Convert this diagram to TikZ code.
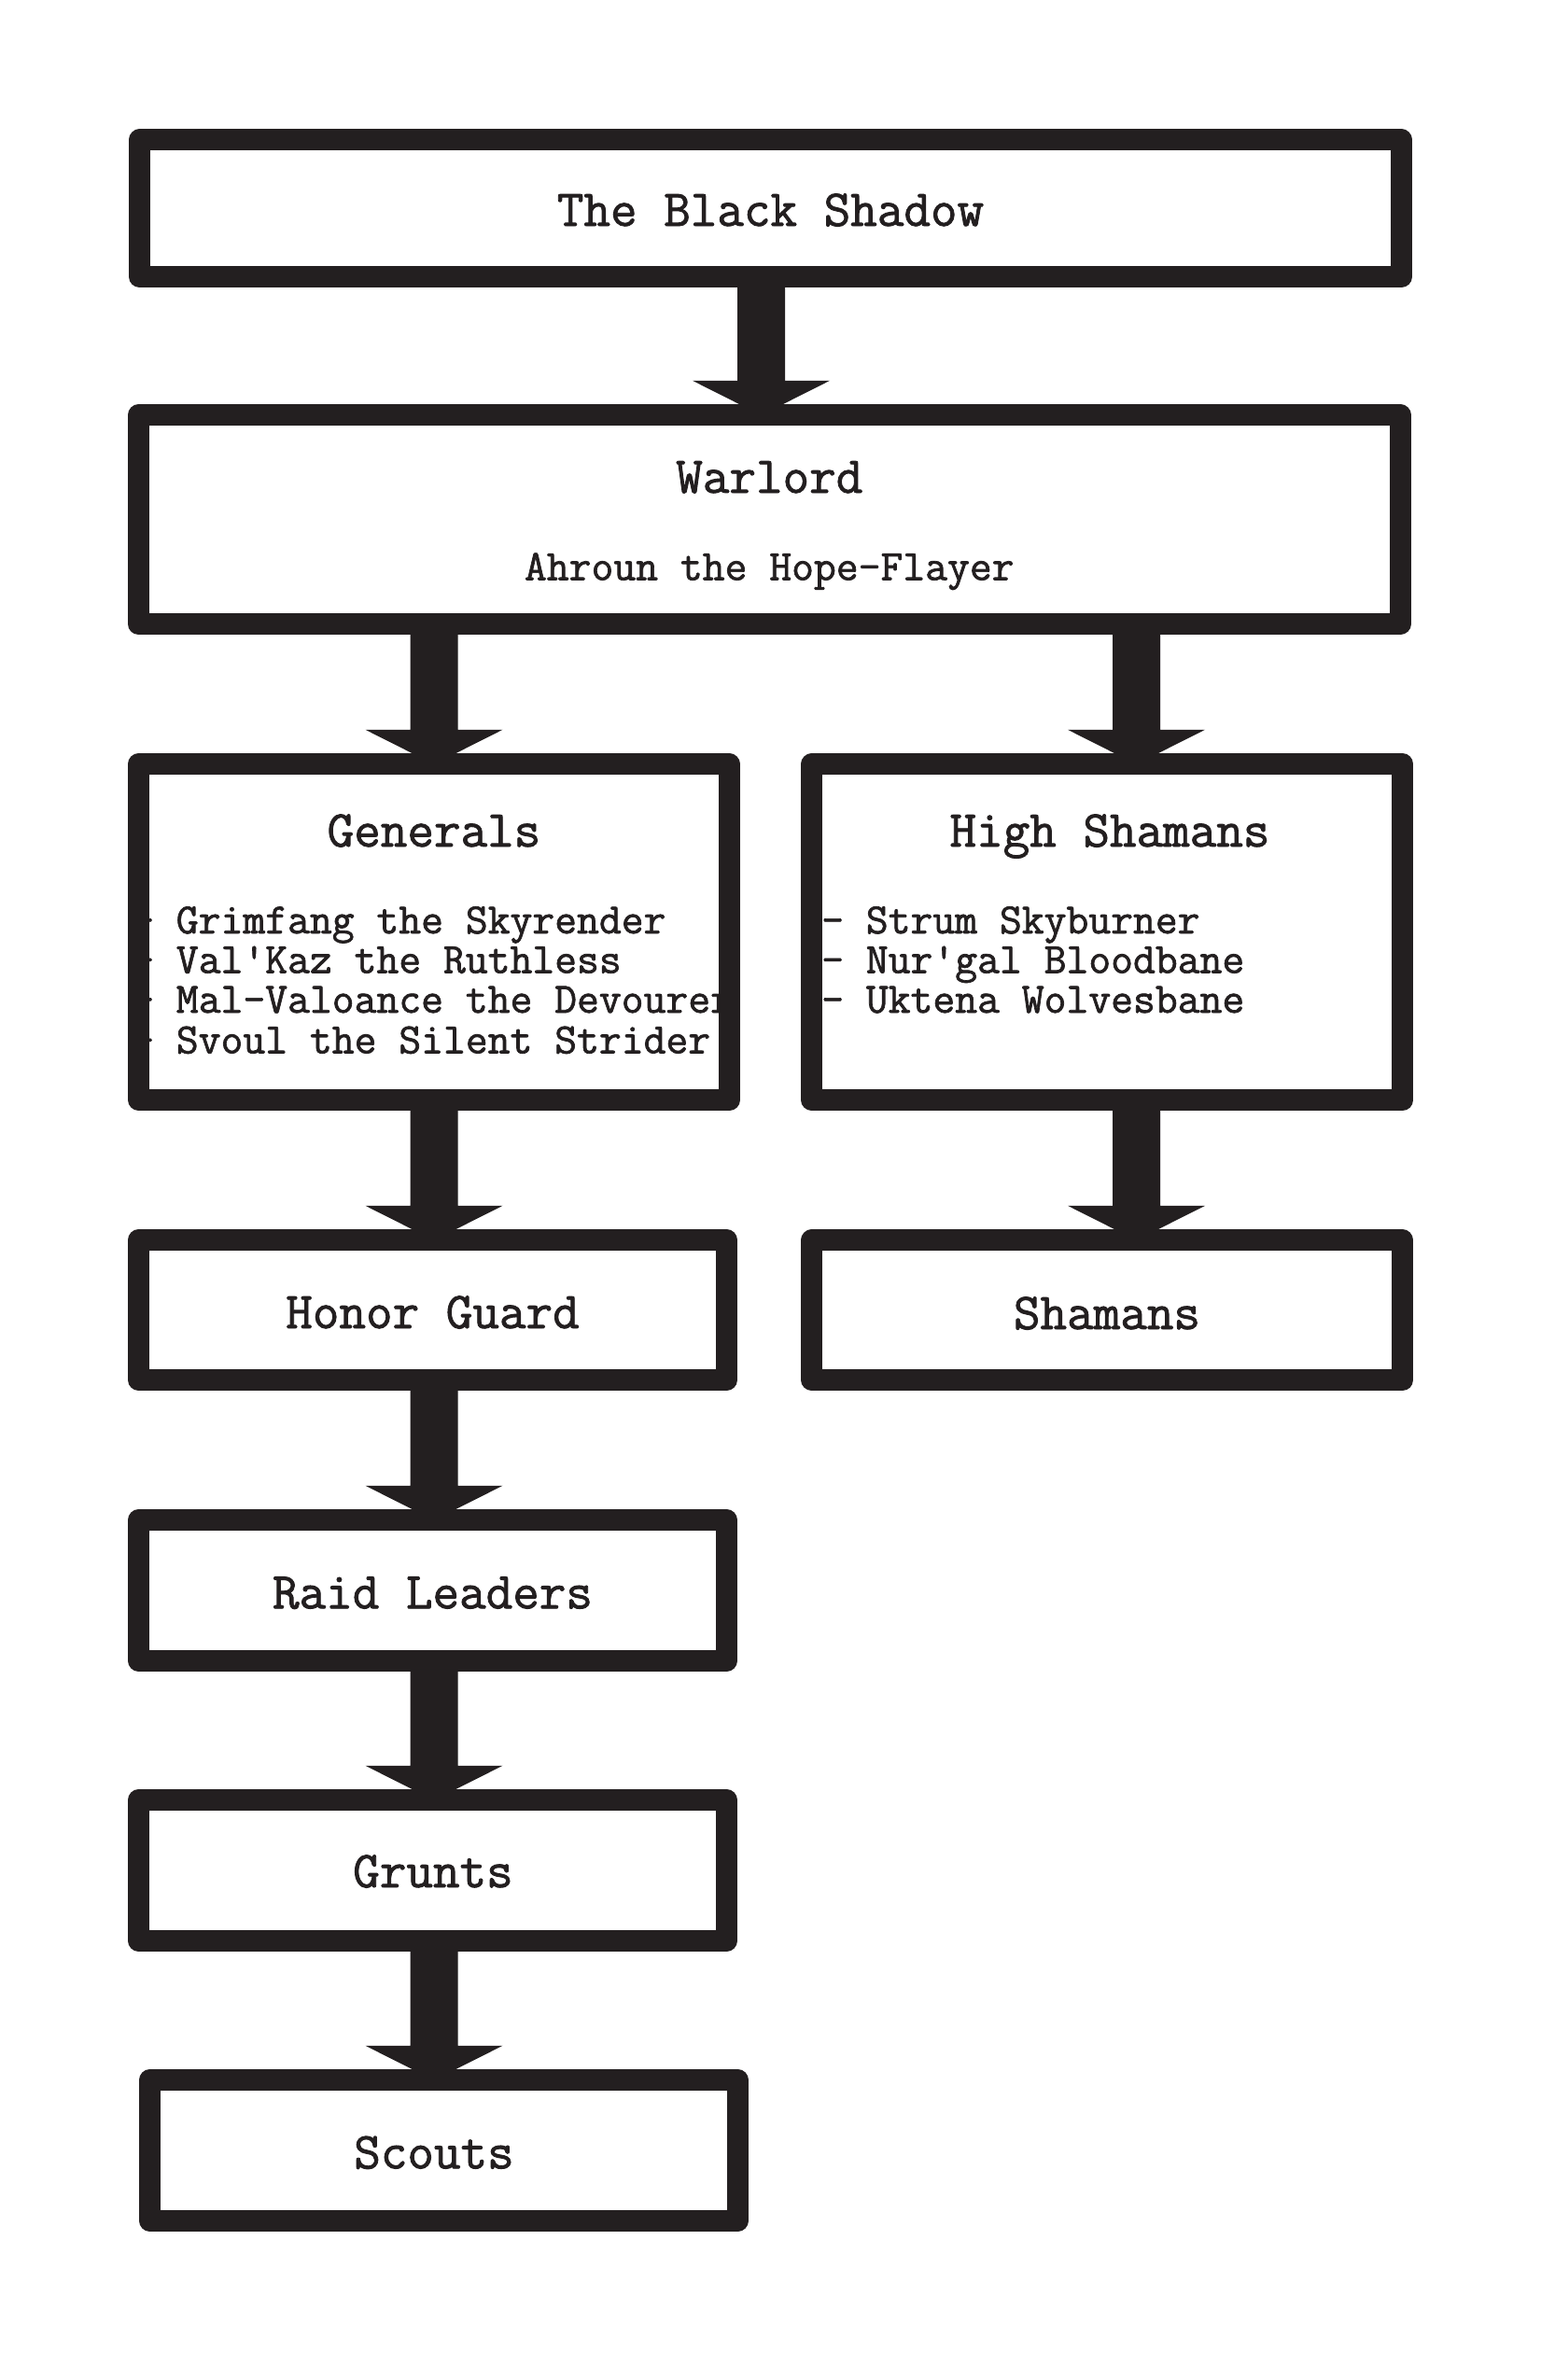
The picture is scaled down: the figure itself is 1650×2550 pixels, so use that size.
\documentclass[tikz,border=0pt]{standalone}
\usepackage{fontspec}
\newfontfamily\twfont{Latin Modern Mono}[FakeBold=1.5]
\usetikzlibrary{calc}
\definecolor{ink}{RGB}{35,31,32}
\tikzset{
  box/.style={rectangle, draw=ink, fill=white, line width=23pt, line join=round, inner sep=0pt, outer sep=0pt},
  bigtext/.style={font=\twfont\fontsize{55.5}{60}\selectfont, text=ink, anchor=base, inner sep=0pt},
  smalltext/.style={font=\twfont\fontsize{46.3}{50}\selectfont, text=ink, anchor=base, inner sep=0pt},
  listtext/.style={smalltext, anchor=base west},
}
\newcommand{\hierarrow}[3]{%
  \fill[ink] let \p1=(#1.south), \p2=(#2.north) in
    ({#3pt-25.5pt},\y1) -- ({#3pt-25.5pt},{\y2+37pt}) -- ({#3pt-73.5pt},{\y2+37pt})
    -- ({#3pt},\y2) -- ({#3pt+73.5pt},{\y2+37pt}) -- ({#3pt+25.5pt},{\y2+37pt})
    -- ({#3pt+25.5pt},\y1) -- cycle;}
\begin{document}
\begin{tikzpicture}[x=1pt,y=-1pt]
\useasboundingbox[fill=white] (0,0) rectangle (1650,2550);
% boxes
\node[box, minimum width=1351.4pt, minimum height=147pt] (shadow) at (825.5,223.3) {};
\node[box, minimum width=1351.7pt, minimum height=223.7pt] (warlord) at (824.3,556.7) {};
\node[box, minimum width=632.7pt, minimum height=359.7pt] (generals) at (464.9,998.7) {};
\node[box, minimum width=633pt, minimum height=359.7pt] (highsh) at (1186.3,998.7) {};
\node[box, minimum width=630pt, minimum height=149.7pt] (honor) at (463.5,1403.7) {};
\node[box, minimum width=632.7pt, minimum height=149.7pt] (shamans) at (1186.2,1403.7) {};
\node[box, minimum width=630pt, minimum height=150.4pt] (raid) at (463.5,1704) {};
\node[box, minimum width=630pt, minimum height=150.4pt] (grunts) at (463.5,2004) {};
\node[box, minimum width=630pt, minimum height=150.4pt] (scouts) at (475.5,2304) {};
% texts
\node[bigtext] (shadowt) at (825.5,242) {The Black Shadow};
\node[bigtext] (warlordt) at (824.3,528) {Warlord};
\node[smalltext] (ahroun) at (824.3,621.5) {Ahroun the Hope-Flayer};
\node[bigtext] (generalst) at (465,907) {Generals};
\node[listtext] (gl1) at (141,1000) {- Grimfang the Skyrender};
\node[listtext] (gl2) at (141,1042.5) {- Val'Kaz the Ruthless};
\node[listtext] (gl3) at (141,1085) {- Mal-Valoance the Devourer};
\node[listtext] (gl4) at (141,1128.5) {- Svoul the Silent Strider};
\node[bigtext] (highsht) at (1189,907) {High Shamans};
\node[listtext] (hl1) at (880,1000) {- Strum Skyburner};
\node[listtext] (hl2) at (880,1042.5) {- Nur'gal Bloodbane};
\node[listtext] (hl3) at (880,1085) {- Uktena Wolvesbane};
\node[bigtext] (honort) at (463.5,1423) {Honor Guard};
\node[bigtext] (shamanst) at (1186,1424) {Shamans};
\node[bigtext] (raidt) at (463.5,1723.3) {Raid Leaders};
\node[bigtext] (gruntst) at (464,2022) {Grunts};
\node[bigtext] (scoutst) at (465,2323.3) {Scouts};
% connectors
\hierarrow{shadow}{warlord}{815.5}
\hierarrow{warlord}{generals}{465}
\hierarrow{warlord}{highsh}{1217.5}
\hierarrow{generals}{honor}{465}
\hierarrow{highsh}{shamans}{1217.5}
\hierarrow{honor}{raid}{465}
\hierarrow{raid}{grunts}{465}
\hierarrow{grunts}{scouts}{465}
\end{tikzpicture}
\end{document}
